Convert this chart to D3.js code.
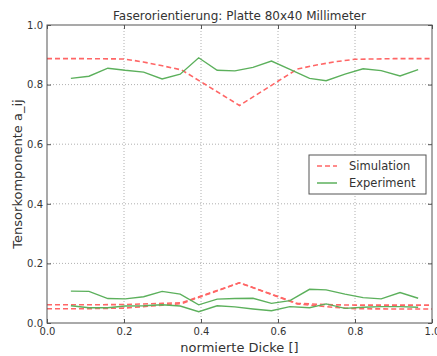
<!DOCTYPE html>
<html>
<head>
<meta charset="utf-8">
<script src="https://cdn.jsdelivr.net/npm/d3@7"></script>
<style>
  body { margin: 0; background: #fff; }
  svg { font-family: "DejaVu Sans", sans-serif; }
</style>
</head>
<body>
<script>
// Faserorientierung - simulation vs experiment
var ticks = [0.0, 0.2, 0.4, 0.6, 0.8, 1.0];

// simulation (dashed red), three tensor components
var simX  = [0.0, 0.1, 0.2, 0.25, 0.3, 0.35, 0.5, 0.65, 0.7, 0.75, 0.8, 0.9, 1.0];
var simA11 = [0.887, 0.887, 0.886, 0.876, 0.863, 0.849, 0.73, 0.852, 0.866, 0.877, 0.885, 0.887, 0.887];
var simA22 = [0.061, 0.061, 0.062, 0.064, 0.066, 0.068, 0.135, 0.066, 0.063, 0.061, 0.060, 0.060, 0.060];
var simA33 = [0.048, 0.048, 0.050, 0.055, 0.060, 0.065, 0.135, 0.064, 0.058, 0.052, 0.048, 0.047, 0.047];

// experiment (solid green)
var expX = [0.062, 0.109, 0.158, 0.203, 0.251, 0.299, 0.346, 0.394, 0.442, 0.488,
            0.535, 0.583, 0.631, 0.682, 0.725, 0.774, 0.821, 0.868, 0.917, 0.964];
var expA11 = [0.821, 0.828, 0.855, 0.848, 0.842, 0.819, 0.835, 0.890, 0.848, 0.846,
              0.858, 0.879, 0.851, 0.821, 0.813, 0.835, 0.853, 0.847, 0.829, 0.850];
var expA22 = [0.107, 0.106, 0.082, 0.081, 0.088, 0.106, 0.097, 0.061, 0.080, 0.082,
              0.083, 0.066, 0.075, 0.113, 0.111, 0.097, 0.085, 0.081, 0.102, 0.083];
var expA33 = [0.058, 0.051, 0.051, 0.057, 0.058, 0.061, 0.057, 0.038, 0.058, 0.054,
              0.047, 0.041, 0.055, 0.051, 0.064, 0.049, 0.053, 0.055, 0.055, 0.053];

var width = 437, height = 356;
var margin = {left: 47, right: 5, top: 25, bottom: 33};
var w = width - margin.left - margin.right;
var h = height - margin.top - margin.bottom;

var x = d3.scaleLinear().domain([0, 1]).range([0, w]);
var y = d3.scaleLinear().domain([0, 1]).range([h, 0]);

var svg = d3.select("body").append("svg")
            .attr("width", width).attr("height", height);

var g = svg.append("g")
           .attr("transform", "translate(" + margin.left + "," + margin.top + ")");

// grid
g.append("g").selectAll("line").data(ticks.slice(1, -1)).enter().append("line")
  .attr("x1", function(d){return x(d);}).attr("x2", function(d){return x(d);})
  .attr("y1", 0).attr("y2", h)
  .attr("stroke", "#b0b0b0").attr("stroke-dasharray", "1,2").attr("stroke-width", 1);
g.append("g").selectAll("line").data(ticks.slice(1, -1)).enter().append("line")
  .attr("y1", function(d){return y(d);}).attr("y2", function(d){return y(d);})
  .attr("x1", 0).attr("x2", w)
  .attr("stroke", "#b0b0b0").attr("stroke-dasharray", "1,2").attr("stroke-width", 1);

var line = d3.line()
             .x(function(d){return x(d[0]);})
             .y(function(d){return y(d[1]);});

function zip(xs, ys) { return xs.map(function(e, i){ return [e, ys[i]]; }); }

[simA11, simA22, simA33].forEach(function(s) {
  g.append("path").attr("d", line(zip(simX, s)))
   .attr("fill", "none").attr("stroke", "#ff6666").attr("stroke-width", 1.6)
   .attr("stroke-dasharray", "5,3");
});
[expA11, expA22, expA33].forEach(function(s) {
  g.append("path").attr("d", line(zip(expX, s)))
   .attr("fill", "none").attr("stroke", "#5cb05c").attr("stroke-width", 1.4);
});

// axes, ticks inside
var xAxis = d3.axisBottom(x).tickValues(ticks).tickFormat(d3.format(".1f")).tickSizeInner(-4).tickSizeOuter(0).tickPadding(5);
var yAxis = d3.axisLeft(y).tickValues(ticks).tickFormat(d3.format(".1f")).tickSizeInner(-4).tickSizeOuter(0).tickPadding(4);

var xg = g.append("g").attr("transform", "translate(0," + h + ")").call(xAxis);
var yg = g.append("g").call(yAxis);
g.append("g").call(d3.axisTop(x).tickValues(ticks).tickFormat("").tickSizeInner(-4).tickSizeOuter(0));
g.append("g").attr("transform", "translate(" + w + ",0)")
  .call(d3.axisRight(y).tickValues(ticks).tickFormat("").tickSizeInner(-4).tickSizeOuter(0));

g.selectAll(".domain").remove();
g.selectAll(".tick line").attr("stroke", "#555");
[xg, yg].forEach(function(a) {
  a.selectAll("text").attr("font-size", 10).attr("fill", "#333")
   .attr("font-family", "DejaVu Sans, sans-serif");
});

g.append("rect").attr("width", w).attr("height", h)
  .attr("fill", "none").attr("stroke", "#555").attr("stroke-width", 1);

// title and labels
svg.append("text").attr("x", margin.left + w / 2).attr("y", 20)
   .attr("text-anchor", "middle").attr("font-size", 12).attr("fill", "#333")
   .text("Faserorientierung: Platte 80x40 Millimeter");
svg.append("text").attr("x", margin.left + w / 2).attr("y", 352)
   .attr("text-anchor", "middle").attr("font-size", 13).attr("fill", "#333")
   .text("normierte Dicke []");
svg.append("text")
   .attr("transform", "translate(22," + (margin.top + h / 2) + ") rotate(-90)")
   .attr("text-anchor", "middle").attr("font-size", 13).attr("fill", "#333")
   .text("Tensorkomponente a_ij");

// legend
var leg = svg.append("g").attr("transform", "translate(309,155)");
leg.append("rect").attr("width", 117).attr("height", 39)
   .attr("fill", "#fff").attr("stroke", "#555").attr("stroke-width", 1);
var legItems = [
  {name: "Simulation", color: "#ff6666", dash: "5,3"},
  {name: "Experiment", color: "#5cb05c", dash: null}
];
legItems.forEach(function(d, i) {
  var yy = 11 + i * 17;
  leg.append("line").attr("x1", 8).attr("x2", 28).attr("y1", yy).attr("y2", yy)
     .attr("stroke", d.color).attr("stroke-width", 1.5)
     .attr("stroke-dasharray", d.dash);
  leg.append("text").attr("x", 40).attr("y", yy + 4)
     .attr("font-size", 11.5).attr("fill", "#333").text(d.name);
});
</script>
</body>
</html>
